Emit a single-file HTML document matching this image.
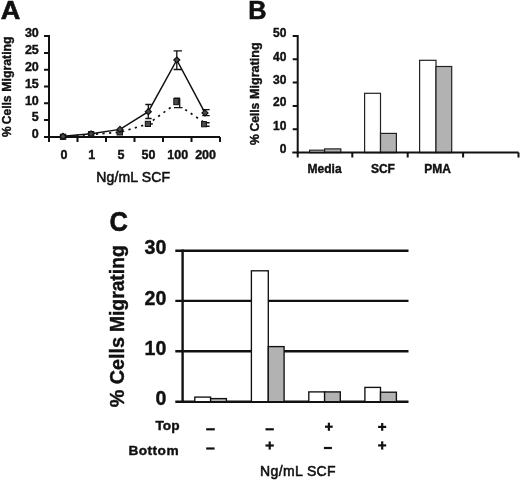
<!DOCTYPE html>
<html><head><meta charset="utf-8">
<style>
html,body{margin:0;padding:0;background:#fff;}
body{width:520px;height:480px;overflow:hidden;}
svg{display:block;will-change:transform;filter:blur(0.35px);}
text{font-family:"Liberation Sans", sans-serif;fill:#111;stroke:#111;stroke-width:0.4px;}
.b{font-weight:bold;}
</style></head><body>
<svg width="520" height="480" viewBox="0 0 520 480">
<rect width="520" height="480" fill="#fff"/>

<!-- ================= PANEL A ================= -->
<text class="b" transform="translate(0.8,19.1) scale(1.07,1)" font-size="25.3" style="stroke-width:0.6px">A</text>
<g class="b" transform="translate(10.9,0) rotate(-90)"><text x="-136.9" y="0" font-size="12" word-spacing="-1.3">% Cells</text><text x="-36.4" y="0" font-size="12.3" text-anchor="end">Migrating</text></g>
<g class="b" font-size="12.5" text-anchor="end">
<text x="38.8" y="37.2">30</text>
<text x="38.8" y="54">25</text>
<text x="38.8" y="70.8">20</text>
<text x="38.8" y="87.6">15</text>
<text x="38.8" y="104.5">10</text>
<text x="38.8" y="121.3">5</text>
<text x="38.8" y="138.1">0</text>
</g>
<g stroke="#111" stroke-width="2" fill="none">
<path d="M49 35 V138"/>
<path d="M44 36.1 H49 M44 52.9 H49 M44 69.7 H49 M44 86.5 H49 M44 103.3 H49 M44 120.1 H49"/>
<path d="M44 137 H220"/>
<path d="M49 137 V142 M77.5 137 V142 M106 137 V142 M134.5 137 V142 M163 137 V142 M191.5 137 V142 M220 137 V142"/>
</g>
<g class="b" font-size="12.5" text-anchor="middle">
<text x="63.9" y="159.1">0</text>
<text x="91.8" y="159.1">1</text>
<text x="120.9" y="159.1">5</text>
<text x="148.4" y="159.1">50</text>
<text x="177.7" y="159.1">100</text>
<text x="205.6" y="159.1">200</text>
</g>
<text x="96.3" y="181.9" font-size="14" letter-spacing="0.15" style="stroke-width:0.55px">Ng/mL SCF</text>

<!-- dashed series -->
<g fill="none" stroke="#111" stroke-width="1.7" stroke-dasharray="2.2 4.4">
<polyline points="63,136.8 91,134.5 120,132.3 148,124 171,107.2"/>
<polyline points="184.8,109.3 205,123" stroke-dashoffset="-0.5"/>
</g>
<!-- solid series -->
<polyline points="63,136.3 91.1,133.8 120,129.4 148.3,111.7 176.8,60 205,112.9" fill="none" stroke="#111" stroke-width="1.5"/>
<!-- error bars solid -->
<g stroke="#111" stroke-width="1.3" fill="none">
<path d="M176.8 50.8 V69.5 M173.6 50.8 H182 M173.6 69.5 H182"/>
<path d="M148.3 104.5 V118.5 M145.3 104.5 H151.6 M145.3 118.5 H151.6"/>
<path d="M205.5 109.6 V115.6 M202.3 109.6 H209.7 M202.3 115.6 H209.7"/>
<path d="M179.7 98.2 V107.6 M174 98.2 H180 M174 107.6 H182.5"/>
<path d="M150.3 123.9 H152.8" stroke-width="1.5"/>
<path d="M206.2 122.8 H209.6 M206.2 126.2 H209.6" stroke-width="1.4"/>
</g>
<!-- markers squares -->
<g fill="#4a4a4a" stroke="#111" stroke-width="1">
<rect x="60.4" y="134.2" width="5.4" height="5.2"/>
<rect x="88.4" y="131.6" width="5.4" height="5.2"/>
<rect x="117.1" y="129.8" width="5.4" height="5.2"/>
<rect x="145.3" y="121.3" width="5.2" height="5.2"/>
<rect x="173.8" y="98.5" width="4.6" height="6.2"/>
<rect x="201.6" y="121.6" width="4.8" height="5.2"/>
</g>
<!-- diamonds -->
<g fill="#4a4a4a" stroke="#111" stroke-width="1.2">
<path d="M63 133.3 l3 3 l-3 3 l-3 -3z"/>
<path d="M91.1 130.8 l3 3 l-3 3 l-3 -3z"/>
<path d="M120 126.4 l3 3 l-3 3 l-3 -3z"/>
<path d="M148.3 108.7 l3 3 l-3 3 l-3 -3z"/>
<path d="M176.8 57 l3 3 l-3 3 l-3 -3z"/>
<path d="M205 109.9 l3 3 l-3 3 l-3 -3z"/>
</g>

<!-- ================= PANEL B ================= -->
<text class="b" x="248.3" y="19.4" font-size="25.3" style="stroke-width:0.6px">B</text>
<g class="b" transform="translate(259,0) rotate(-90)"><text x="-145" y="0" font-size="12.1" word-spacing="-0.7">% Cells</text><text x="-42.3" y="0" font-size="12.6" text-anchor="end">Migrating</text></g>
<g class="b" font-size="12" text-anchor="end">
<text x="286.4" y="37.3">50</text>
<text x="286.4" y="60.6">40</text>
<text x="286.4" y="83.9">30</text>
<text x="286.4" y="105.8">20</text>
<text x="286.4" y="129.8">10</text>
<text x="286.4" y="152.6">0</text>
</g>
<!-- bars B -->
<g stroke="#222" stroke-width="1.2">
<rect x="309.6" y="150.2" width="15" height="2.4" fill="#fff"/>
<rect x="324.6" y="148.9" width="16.2" height="3.7" fill="#b2b2b2"/>
<rect x="364.6" y="93.3" width="15.9" height="59.3" fill="#fff"/>
<rect x="380.5" y="133.4" width="15.9" height="19.2" fill="#b2b2b2"/>
<rect x="419.6" y="60.3" width="16.4" height="92.3" fill="#fff"/>
<rect x="436" y="66.5" width="15.7" height="86.1" fill="#b2b2b2"/>
</g>
<g stroke="#111" stroke-width="2" fill="none">
<path d="M297.7 35 V153.5"/>
<path d="M292.7 36 H297.7 M292.7 59.3 H297.7 M292.7 82.6 H297.7 M292.7 105.9 H297.7 M292.7 129.2 H297.7"/>
<path d="M292.3 152.6 H518.5"/>
<path d="M297.7 152.6 V157.6 M352.3 152.6 V157.6 M407.7 152.6 V157.6 M463.1 152.6 V157.6 M518.5 152.6 V157.6"/>
</g>
<g class="b" font-size="12" text-anchor="middle">
<text x="324.6" y="173">Media</text>
<text x="382.9" y="173">SCF</text>
<text x="437.6" y="173">PMA</text>
</g>

<!-- ================= PANEL C ================= -->
<text class="b" transform="translate(109.4,231.2) scale(0.9,1)" font-size="28.3" style="stroke-width:0.6px">C</text>
<g class="b" transform="translate(123.9,0) rotate(-90)"><text x="-407.3" y="0" font-size="19.8">% Cells</text><text x="-245.3" y="0" font-size="19.3" text-anchor="end">Migrating</text></g>
<g class="b" font-size="19.6" text-anchor="end">
<text x="166.4" y="253.5">30</text>
<text x="166.4" y="304.5">20</text>
<text x="166.4" y="354.8">10</text>
<text x="166.4" y="404.8">0</text>
</g>
<g stroke="#111" stroke-width="2.4" fill="none">
<path d="M175.3 250.8 H408.5 M175.3 300.9 H408.5 M175.3 351.3 H408.5 M175.3 401.7 H408.5"/>
<path d="M182.6 249.5 V402.5"/>
</g>
<g stroke="#111" stroke-width="1.35">
<rect x="194.8" y="397.1" width="15.8" height="4.6" fill="#fff"/>
<rect x="210.6" y="398.6" width="15.8" height="3.1" fill="#b2b2b2"/>
<rect x="251.4" y="270.8" width="16.9" height="130.9" fill="#fff"/>
<rect x="268.3" y="346.6" width="15.8" height="55.1" fill="#b2b2b2"/>
<rect x="308.8" y="391.9" width="15.8" height="9.8" fill="#fff"/>
<rect x="324.6" y="391.9" width="15.7" height="9.8" fill="#b2b2b2"/>
<rect x="364.9" y="387.4" width="15.6" height="14.3" fill="#fff"/>
<rect x="380.5" y="392.2" width="15.9" height="9.5" fill="#b2b2b2"/>
</g>
<g class="b" font-size="13.7" text-anchor="end">
<text x="179.6" y="430.2">Top</text>
<text x="179" y="455.2" letter-spacing="0.45">Bottom</text>
</g>
<!-- signs -->
<g fill="#111">
<rect x="206.2" y="428.2" width="8.6" height="2.2"/>
<rect x="206.2" y="447.4" width="8.4" height="2.2"/>
<rect x="265.5" y="428.2" width="8.3" height="2.2"/>
<rect x="265.5" y="444.4" width="8.3" height="2.2"/><rect x="268.6" y="441.5" width="2.2" height="8.1"/>
<rect x="325" y="425.6" width="7.7" height="2.2"/><rect x="327.8" y="422.7" width="2.2" height="8.1"/>
<rect x="323.9" y="446.9" width="8" height="2.2"/>
<rect x="378.1" y="425.8" width="8.1" height="2.2"/><rect x="381.1" y="423" width="2.2" height="7.8"/>
<rect x="378.1" y="444.3" width="8.1" height="2.2"/><rect x="381.1" y="441.3" width="2.2" height="8.3"/>
</g>
<text x="260" y="475.8" font-size="14" letter-spacing="0.38" style="stroke-width:0.55px">Ng/mL SCF</text>
</svg>
</body></html>
